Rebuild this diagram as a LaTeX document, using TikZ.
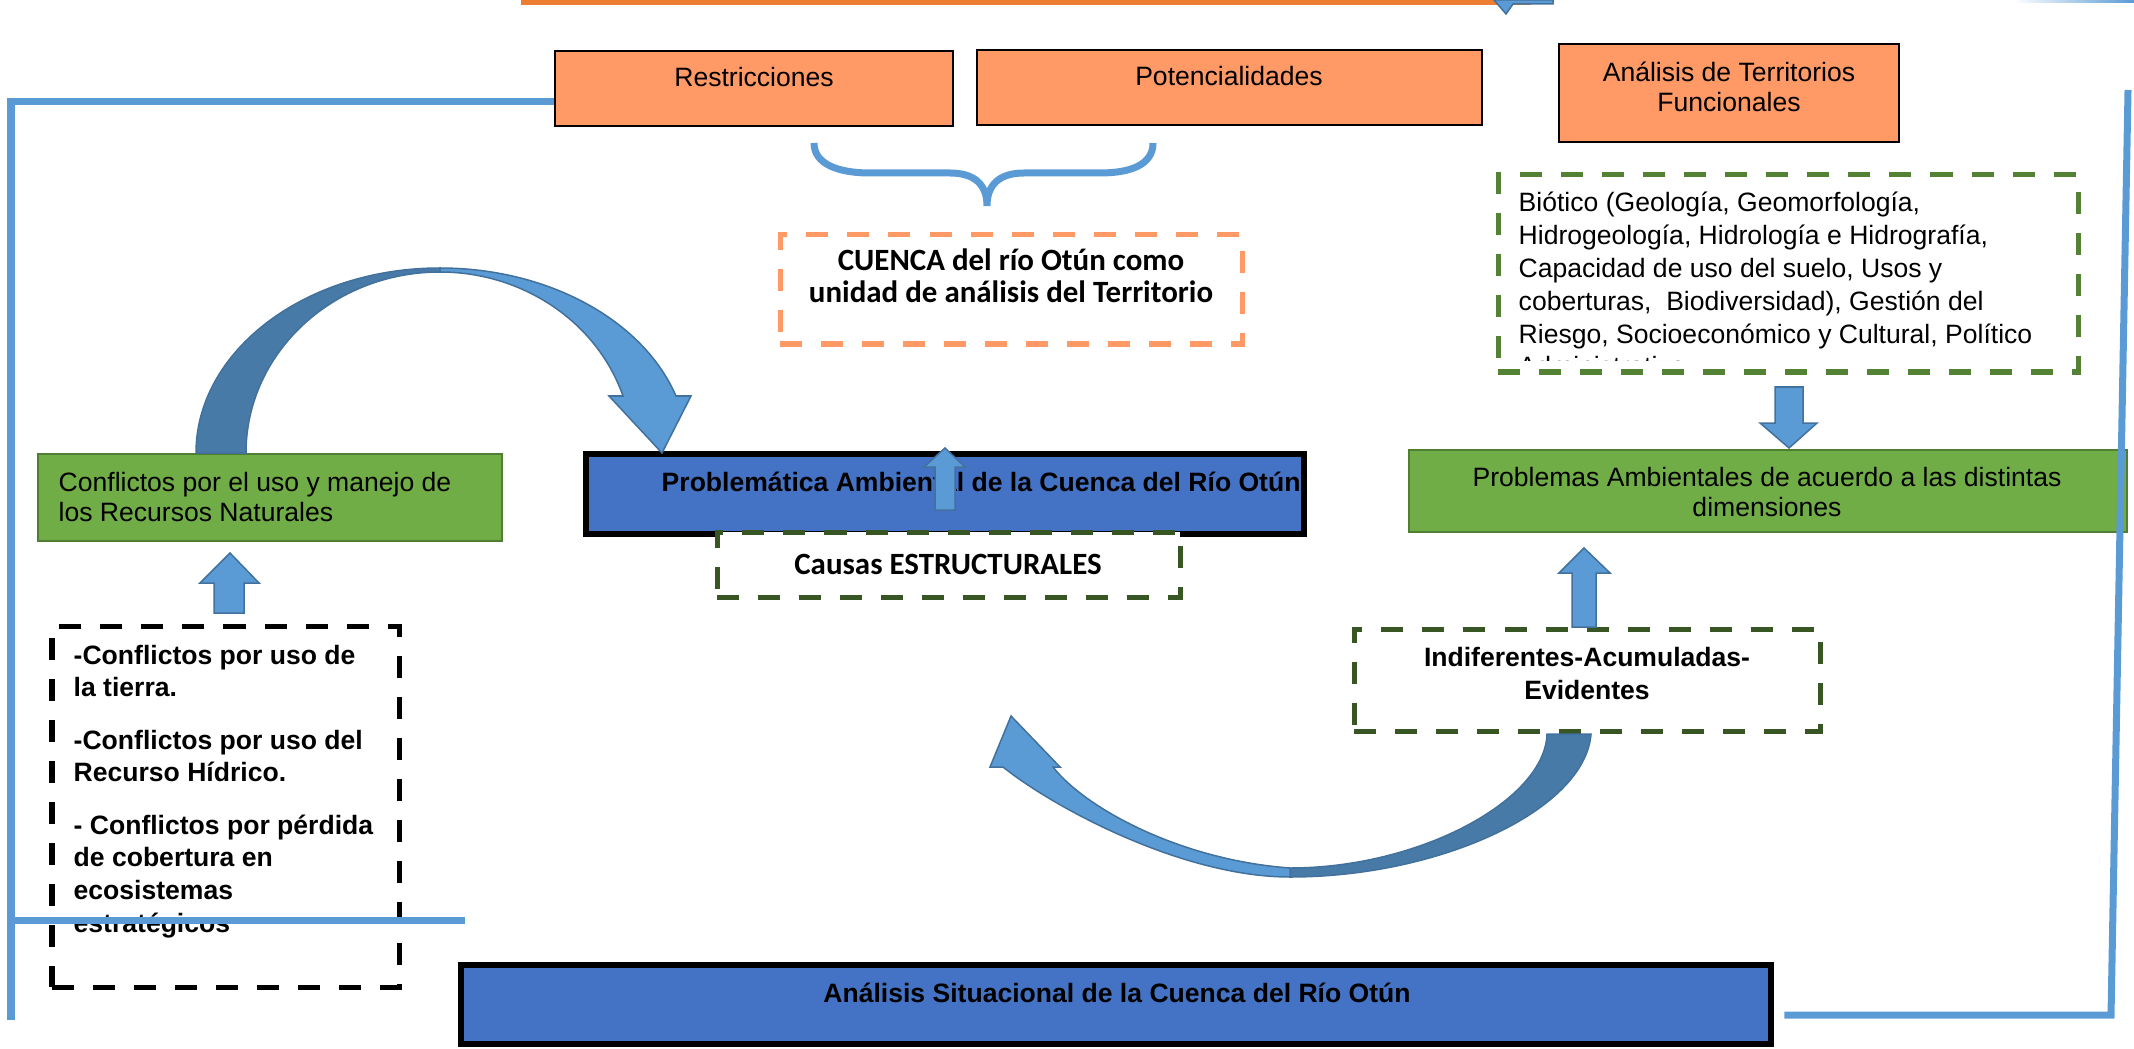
\documentclass[tikz,border=0pt]{standalone}
\usepackage{fontspec}
\setmainfont{Liberation Sans}
\newfontfamily\calibfont{Carlito}
\usetikzlibrary{fit, calc}
\definecolor{orangefill}{RGB}{255,153,102}
\definecolor{orangeline}{RGB}{237,125,49}
\definecolor{boxblue}{RGB}{68,114,196}
\definecolor{greenfill}{RGB}{112,173,71}
\definecolor{greenline}{RGB}{80,126,50}
\definecolor{darkgreen}{RGB}{55,86,35}
\definecolor{midgreen}{RGB}{84,130,53}
\definecolor{linkblue}{RGB}{91,155,213}
\definecolor{arrowdark}{RGB}{72,122,167}
\definecolor{arrowline}{RGB}{65,113,156}
\newcommand\txtsize[1][9.3pt]{\fontsize{7.55pt}{#1}\selectfont}
\newcommand\calsize{\calibfont\bfseries\fontsize{8.8pt}{9.1pt}\selectfont}

\begin{document}
\begin{tikzpicture}[x=0.01cm, y=-0.01cm, font=\txtsize,
    orangebox/.style={draw=black, line width=0.025cm, fill=orangefill, inner sep=0},
    greenbox/.style={draw=greenline, line width=0.02cm, fill=greenfill, inner sep=0},
    bluebox/.style={draw=black, line width=0.065cm, fill=boxblue, inner sep=0},
    dashbox/.style={dash pattern=on 0.22cm off 0.19cm, line width=0.05cm, fill=white, inner sep=0},
    txt/.style={inner sep=0, align=center},
    link/.style={draw=linkblue, line width=0.07cm},
    blockarrow/.style={fill=linkblue, draw=arrowline, line width=0.015cm},
    backarrow/.style={fill=arrowdark, draw=arrowline, line width=0.015cm}]
  \useasboundingbox (0,0) rectangle (2134,1049);

  % pieces cut by the page top
  \fill[orangeline] (521,0) rectangle (1531,5);
  \filldraw[blockarrow] (1494,0) -- (1506,14) -- (1513,4) -- (1553,4) -- (1553,0) -- cycle;
  \shade[left color=white, right color=linkblue] (2013,0) rectangle (2134,3);

  % Restricciones / Potencialidades / Territorios
  \node[orangebox, fit={(555,51) (953,126)}] (restr) {};
  \node[txt, anchor=base] (restrtxt) at (754,87) {Restricciones};
  \node[orangebox, fit={(977,50) (1482,125)}] (poten) {};
  \node[txt, anchor=base] (potentxt) at (1229,86) {Potencialidades};
  \node[orangebox, fit={(1559,44) (1899,142)}] (terr) {};
  \node[txt, anchor=base, font={\txtsize[8.8pt]}] (terrtxt) at (1729,112) {Análisis de Territorios\\Funcionales};

  % brace
  \draw[linkblue, line width=0.07cm] (814,143) .. controls (814,165) and (840,173) .. (870,173) -- (950,173)
    .. controls (975,173) and (987,185) .. (987,206) .. controls (987,185) and (999,173) .. (1024,173)
    -- (1100,173) .. controls (1130,173) and (1153,165) .. (1153,143);

  % CUENCA
  \node[dashbox, draw=orangefill, fit={(780,235) (1242,344)}] (cuenca) {};
  \node[txt, anchor=base, font=\calsize] (cuencatxt) at (1011,303) {CUENCA del río Otún como\\unidad de análisis del Territorio};

  % Problematica
  \node[bluebox, fit={(586,454) (1304,534)}] (probl) {};
  \node[txt, anchor=base west, font={\txtsize\bfseries}] (probltxt) at (661,491) {Problemática Ambiental de la Cuenca del Río Otún};
  \node[dashbox, draw=darkgreen, fit={(717,532) (1180,597)}] (causas) {};
  \node[txt, anchor=base, font=\calsize] (causastxt) at (948,574) {Causas ESTRUCTURALES};

  % Conflictos
  \node[greenbox, fit={(38,454) (502,541)}] (conf) {};
  \node[txt, anchor=base west, align=left, font={\txtsize[8.5pt]}] (conftxt) at (58,521) {Conflictos por el uso y manejo de\\los Recursos Naturales};
  \node[dashbox, draw=black, fit={(52,626) (399,987)}] (lista) {};
  \node[txt, anchor=base west, align=left, font={\txtsize[9.25pt]\bfseries}] (listatxt) at (73,932)
    {-Conflictos por uso de\\la tierra.\\[0.2cm]-Conflictos por uso del\\Recurso Hídrico.\\[0.2cm]- Conflictos por pérdida\\de cobertura en\\ecosistemas\\estratégicos};

  % Biotico
  \node[dashbox, draw=midgreen, fit={(1498,175) (2078,372)}] (biot) {};
  \begin{scope}
    \clip (1500,177) rectangle (2076,361);
    \node[txt, anchor=base west, align=left, font={\txtsize[9.35pt]}] (biottxt) at (1518,376)
      {Biótico (Geología, Geomorfología,\\Hidrogeología, Hidrología e Hidrografía,\\Capacidad de uso del suelo, Usos y\\coberturas,\ \ Biodiversidad), Gestión del\\Riesgo, Socioeconómico y Cultural, Político\\Administrativo};
  \end{scope}
  \node[greenbox, fit={(1409,450) (2127,532)}] (probam) {};
  \node[txt, anchor=base, font={\txtsize[8.3pt]}] (probamtxt) at (1767,516) {Problemas Ambientales de acuerdo a las distintas\\dimensiones};
  \node[dashbox, draw=darkgreen, fit={(1354,629) (1820,731)}] (indif) {};
  \node[txt, anchor=base, font={\txtsize[9.35pt]\bfseries}] (indiftxt) at (1587,699) {Indiferentes-Acumuladas-\\Evidentes};

  % Analisis situacional
  \node[bluebox, fit={(461,965) (1771,1044)}] (sit) {};
  \node[txt, anchor=base, font={\txtsize\bfseries}] (sittxt) at (1117,1002) {Análisis Situacional de la Cuenca del Río Otún};

  % frame connectors
  \coordinate (lcorner) at (11,102);
  \coordinate (lbottom) at (11,1020);
  \coordinate (lmid) at (11,920);
  \coordinate (lmidend) at (465,920);
  \coordinate (rcorner) at (2111,1015);
  \coordinate (rtop) at (2128,90);
  \draw[link] (restr.west |- lcorner) -- (lcorner) -- (lbottom);
  \draw[link] (lmid) -- (lmidend);
  \draw[link] ($(sit.east |- rcorner)+(10,0)$) -- (rcorner) -- (rtop);

  % block arrows
  \filldraw[blockarrow] (214,613) -- (214,583) -- (200,583) -- (230,553) -- (259,583) -- (244,583) -- (244,613) -- cycle;
  \filldraw[blockarrow] (935,510) -- (935,467) -- (924,467) -- (945,448) -- (965,467) -- (955,467) -- (955,510) -- cycle;
  \filldraw[blockarrow] (1775,387) -- (1803,387) -- (1803,423) -- (1817,423) -- (1789,448) -- (1760,423) -- (1775,423) -- cycle;
  \filldraw[blockarrow] (1572,627) -- (1572,573) -- (1559,573) -- (1584,548) -- (1610,573) -- (1596,573) -- (1596,627) -- cycle;

  % curved arrow over the left
  \filldraw[backarrow] (196,453) .. controls (196,351) and (305,268) .. (440,268) -- (440,272)
    .. controls (333,272) and (246,353) .. (246,453) -- cycle;
  \filldraw[blockarrow] (440,268) .. controls (548,268) and (643,320) .. (676,396) -- (691,396) -- (662,453)
    -- (609,396) -- (623,396) .. controls (597,322) and (523,272) .. (440,272) -- cycle;

  % curved arrow under the middle
  \filldraw[backarrow] (1591,734) .. controls (1585,810) and (1440,877) .. (1290,877) -- (1290,868)
    .. controls (1420,868) and (1545,800) .. (1547,734) -- cycle;
  \filldraw[blockarrow] (1290,877) .. controls (1180,877) and (1050,805) .. (1003,767) -- (990,767) -- (1011,716)
    -- (1060,767) -- (1053,767) .. controls (1085,808) and (1180,860) .. (1290,868) -- cycle;
\end{tikzpicture}
\end{document}
